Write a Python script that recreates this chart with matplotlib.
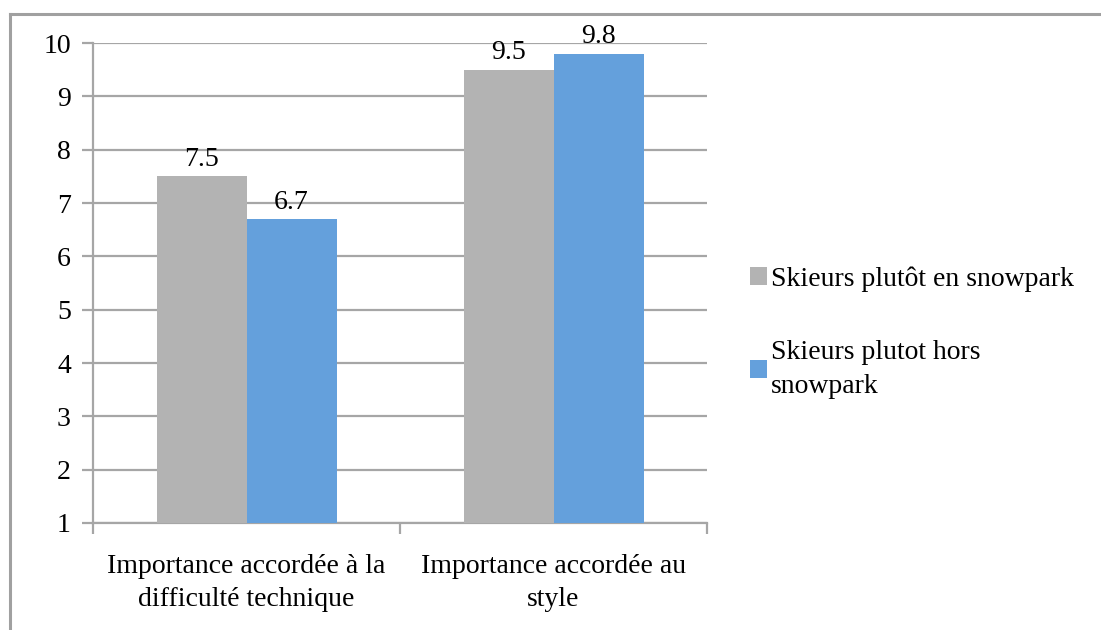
import matplotlib
matplotlib.use("Agg")
import matplotlib.pyplot as plt
from matplotlib.lines import Line2D
import numpy as np

categories = ["Importance accordée à la\ndifficulté technique", "Importance accordée au\nstyle"]
series_names = ["Skieurs plutôt en snowpark", "Skieurs plutot hors\nsnowpark"]
snowpark = [7.5, 9.5]
hors_snowpark = [6.7, 9.8]
value_labels_snowpark = ["7.5", "9.5"]
value_labels_hors = ["6.7", "9.8"]
yticks = [1, 2, 3, 4, 5, 6, 7, 8, 9, 10]

colors = ["#b3b3b3", "#64a0dc"]
grid_color = "#a6a6a6"

plt.rcParams['font.family'] = ['Liberation Serif', 'DejaVu Serif']
fs = 20

fig = plt.figure(figsize=(11.01, 6.30), dpi=100)
ax = fig.add_axes([93/1101, 1-523/630, (707-93)/1101, (523-43)/630])

x = np.arange(len(categories))
w = 90/307
base = 1
b1 = ax.bar(x - w/2, np.array(snowpark) - base, width=w, bottom=base, color=colors[0],
            label=series_names[0], zorder=3)
b2 = ax.bar(x + w/2, np.array(hors_snowpark) - base, width=w, bottom=base, color=colors[1],
            label=series_names[1], zorder=3)

for xi, v, t in zip(x - w/2, snowpark, value_labels_snowpark):
    ax.text(xi, v + 0.08, t, ha="center", va="bottom", fontsize=fs, zorder=5)
for xi, v, t in zip(x + w/2, hors_snowpark, value_labels_hors):
    ax.text(xi, v + 0.08, t, ha="center", va="bottom", fontsize=fs, zorder=5)

ax.set_ylim(1, 10)
ax.set_xlim(-0.5, 1.5)
ax.set_yticks(yticks)
ax.set_yticklabels([str(t) for t in yticks], fontsize=fs)
ax.yaxis.grid(True, color=grid_color, linewidth=1.6, zorder=0)
ax.set_axisbelow(True)

ax.set_xticks([-0.5, 0.5, 1.5])
ax.set_xticklabels([])
ax.set_xticks(x, minor=True)
ax.set_xticklabels(categories, minor=True, fontsize=fs, linespacing=1.45)
ax.tick_params(axis="x", which="minor", length=0, pad=22)
ax.tick_params(axis="x", which="major", length=8, width=1.6, color=grid_color, direction="out")
ax.tick_params(axis="y", length=8, width=1.6, color=grid_color, direction="out", pad=8)

for s in ["top", "right"]:
    ax.spines[s].set_visible(False)
for s in ["left", "bottom"]:
    ax.spines[s].set_color(grid_color)
    ax.spines[s].set_linewidth(1.6)

leg = fig.legend(handles=[b1, b2], labels=series_names, loc="upper left",
                 bbox_to_anchor=(725/1101, 1-241/630), frameon=False, fontsize=fs,
                 handlelength=0.6, handleheight=0.6, handletextpad=0.15,
                 labelspacing=1.75)
for t in leg.get_texts():
    t.set_linespacing(1.45)

# outer frame (top and left edges visible)
fig.add_artist(Line2D([10/1101, 1.0], [1-14/630, 1-14/630], transform=fig.transFigure,
                      color="#a0a0a0", linewidth=2.2))
fig.add_artist(Line2D([10/1101, 10/1101], [0, 1-14/630], transform=fig.transFigure,
                      color="#a0a0a0", linewidth=2.2))

fig.savefig("out.png", dpi=100)
